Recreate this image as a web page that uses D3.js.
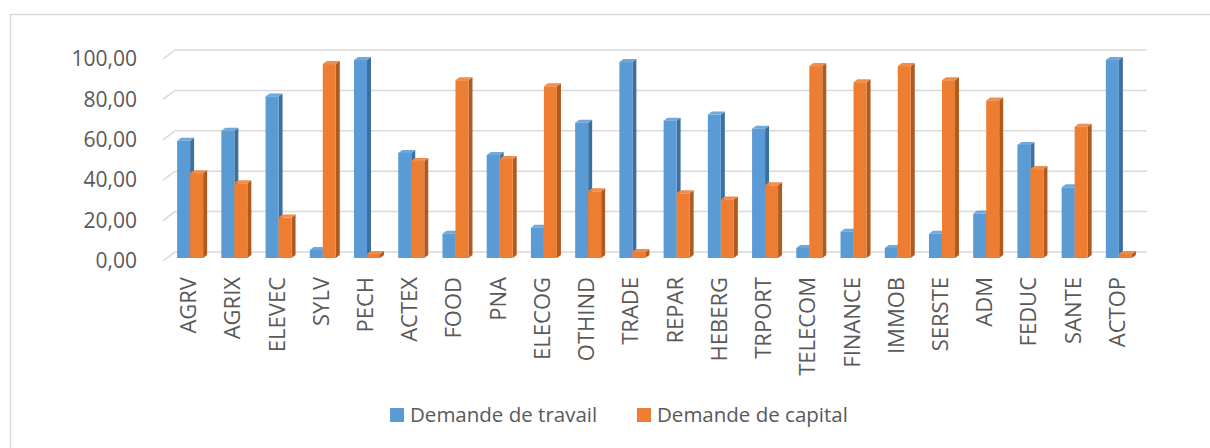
<!DOCTYPE html>
<html>
<head>
<meta charset="utf-8">
<script src="https://cdn.jsdelivr.net/npm/d3@7/dist/d3.min.js"></script>
<style>
  body { margin: 0; background: #fff; }
  text { font-family: "Open Sans", "Liberation Sans", sans-serif; fill: #595959; }
</style>
</head>
<body>
<div id="chart"></div>
<script>
// secteurs
const categories = ["AGRV", "AGRIX", "ELEVEC", "SYLV", "PECH", "ACTEX", "FOOD", "PNA", "ELECOG", "OTHIND", "TRADE",
    "REPAR", "HEBERG", "TRPORT", "TELECOM", "FINANCE", "IMMOB", "SERSTE", "ADM", "FEDUC", "SANTE", "ACTOP"]
const travail = [58, 63, 80, 4, 98, 52, 12, 51, 15, 67, 97, 68, 71, 64, 5, 13, 5, 12, 22, 56, 35, 98]
const capital = [42, 37, 20, 96, 2, 48, 88, 49, 85, 33, 3, 32, 29, 36, 95, 87, 95, 88, 78, 44, 65, 2]
const seriesNames = ["Demande de travail", "Demande de capital"]
const yTicks = [0, 20, 40, 60, 80, 100]

const W = 1210, H = 448
const depthX = 4, depthY = 3

const colors = {
    front: ["#5b9bd5", "#ed7d31"],
    side: ["#3d6f9f", "#ae5a21"],
    top: ["#6ea8dc", "#f08d4b"]
}

const svg = d3.select("#chart")
    .append("svg")
    .attr("width", W)
    .attr("height", H)

// cadre
svg.append("rect")
    .attr("x", 10.5)
    .attr("y", 14.5)
    .attr("width", W)
    .attr("height", H)
    .attr("fill", "none")
    .attr("stroke", "#d9d9d9")
    .attr("stroke-width", 1.5)

const x0 = d3.scaleBand()
    .domain(categories)
    .range([168, 1141])

const groupW = 26
const x1 = d3.scaleBand()
    .domain(seriesNames)
    .range([0, groupW])

const y = d3.scaleLinear()
    .domain([0, 100])
    .range([258, 56])

const fmt = v => d3.format(".2f")(v).replace(".", ",")

// grille (paroi du fond)
const g_grid = svg.append("g")
yTicks.forEach(function (t) {
    const yy = y(t) - 6
    g_grid.append("path")
        .attr("d", "M163," + (yy + 9) + "L175," + yy + "L1147," + yy)
        .attr("fill", "none")
        .attr("stroke", "#d9d9d9")
        .attr("stroke-width", 1.5)
})

// axe y
const yAxis = d3.axisLeft(y)
    .tickValues(yTicks)
    .tickFormat(fmt)
    .tickSize(0)
    .tickPadding(0)

const g_y = svg.append("g")
    .attr("transform", "translate(137,3)")
    .call(yAxis)
g_y.select(".domain").remove()
g_y.selectAll("text")
    .attr("font-size", 21)
    .attr("fill", "#595959")
    .style("font-family", "\"Open Sans\", sans-serif")

// barres
const data = categories.map((c, i) => ({ cat: c, values: [travail[i], capital[i]] }))

const g_bars = svg.append("g")
data.forEach(function (d) {
    const gx = x0(d.cat) + (x0.bandwidth() - groupW) / 2
    d.values.forEach(function (v, s) {
        const bx = gx + x1(seriesNames[s])
        const bw = x1.bandwidth()
        const top = y(v)
        const bottom = y(0)
        // face latérale
        g_bars.append("path")
            .attr("d", "M" + (bx + bw) + "," + bottom +
                "L" + (bx + bw + depthX) + "," + (bottom - depthY) +
                "L" + (bx + bw + depthX) + "," + (top - depthY) +
                "L" + (bx + bw) + "," + top + "Z")
            .attr("fill", colors.side[s])
        // dessus
        g_bars.append("path")
            .attr("d", "M" + bx + "," + top +
                "L" + (bx + depthX) + "," + (top - depthY) +
                "L" + (bx + bw + depthX) + "," + (top - depthY) +
                "L" + (bx + bw) + "," + top + "Z")
            .attr("fill", colors.top[s])
        // face avant
        g_bars.append("rect")
            .attr("x", bx)
            .attr("y", top)
            .attr("width", bw)
            .attr("height", bottom - top)
            .attr("fill", colors.front[s])
    })
})

// étiquettes x
svg.append("g")
    .selectAll("text")
    .data(categories)
    .join("text")
    .attr("transform", d => "translate(" + (x0(d) + x0.bandwidth() / 2 + 6) + ",277) rotate(-90)")
    .attr("text-anchor", "end")
    .attr("font-size", 22)
    .text(d => d)

// légende
const legendX = [390, 637]
const g_legend = svg.append("g")
seriesNames.forEach(function (name, s) {
    g_legend.append("rect")
        .attr("x", legendX[s])
        .attr("y", 408)
        .attr("width", 14)
        .attr("height", 14)
        .attr("fill", colors.front[s])
    g_legend.append("text")
        .attr("x", legendX[s] + 20)
        .attr("y", 422)
        .attr("font-size", 20.5)
        .text(name)
})
</script>
</body>
</html>
